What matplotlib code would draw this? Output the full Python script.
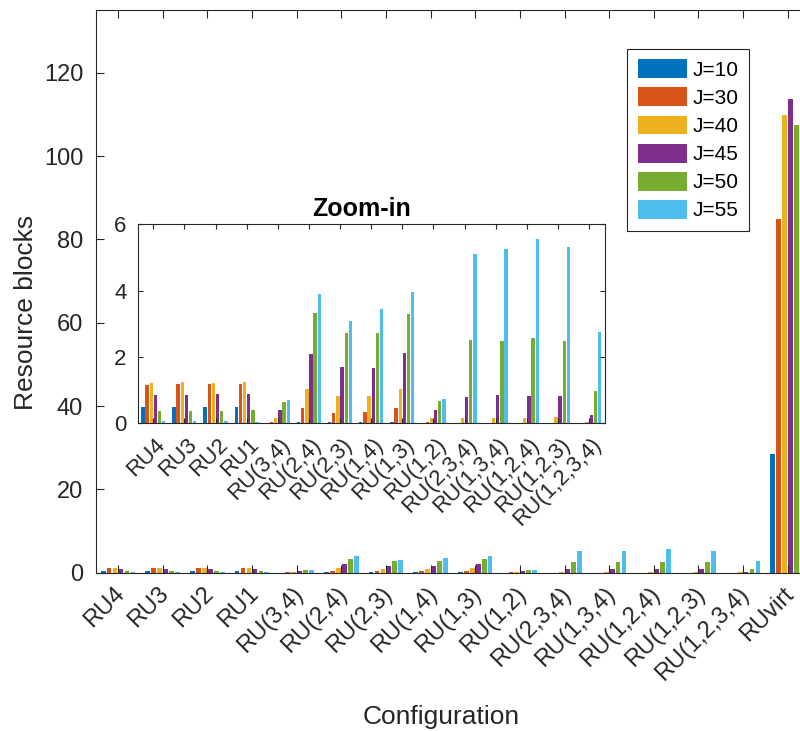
import numpy as np
import matplotlib
matplotlib.use('Agg')
import matplotlib.pyplot as plt
from matplotlib.transforms import ScaledTranslation

plt.rcParams['font.family'] = ['Liberation Sans', 'DejaVu Sans']

# configurations on the x axis
categories = ['RU4', 'RU3', 'RU2', 'RU1', 'RU(3,4)', 'RU(2,4)', 'RU(2,3)',
              'RU(1,4)', 'RU(1,3)', 'RU(1,2)', 'RU(2,3,4)', 'RU(1,3,4)',
              'RU(1,2,4)', 'RU(1,2,3)', 'RU(1,2,3,4)', 'RUvirt']

series_labels = ['J=10', 'J=30', 'J=40', 'J=45', 'J=50', 'J=55']

# resource blocks per configuration, one list per J
j10 = [0.50, 0.50, 0.49, 0.49, 0.00, 0.05, 0.04, 0.04, 0.05, 0.00,
       0.00, 0.00, 0.00, 0.00, 0.00, 28.4]
j30 = [1.15, 1.18, 1.18, 1.20, 0.04, 0.45, 0.32, 0.34, 0.45, 0.04,
       0.00, 0.00, 0.00, 0.00, 0.00, 85.0]
j40 = [1.23, 1.24, 1.21, 1.24, 0.17, 1.02, 0.82, 0.82, 1.04, 0.16,
       0.15, 0.16, 0.17, 0.19, 0.04, 109.8]
j45 = [0.86, 0.86, 0.88, 0.88, 0.40, 2.08, 1.69, 1.68, 2.11, 0.41,
       0.80, 0.86, 0.82, 0.82, 0.25, 113.6]
j50 = [0.36, 0.37, 0.38, 0.39, 0.63, 3.32, 2.73, 2.71, 3.29, 0.67,
       2.52, 2.47, 2.56, 2.47, 0.97, 107.5]
j55 = [0.07, 0.07, 0.07, 0.05, 0.69, 3.89, 3.10, 3.46, 3.95, 0.73,
       5.12, 5.26, 5.57, 5.32, 2.76, 110.0]

series = [j10, j30, j40, j45, j50, j55]
colors = ['#0072BD', '#D95319', '#EDB120', '#7E2F8E', '#77AC30', '#4DBEEE']
axis_grey = '#262626'


def draw_bars(ax, n_groups):
    # matlab style grouped bars
    x = np.arange(1, n_groups + 1)
    slot = 0.8 / len(series)
    for i, vals in enumerate(series):
        offset = (i - (len(series) - 1) / 2) * slot
        ax.bar(x + offset, vals[:n_groups], width=slot * 0.8,
               color=colors[i], label=series_labels[i], linewidth=0)
    ax.set_xticks(x)
    ax.set_xlim(0.5, n_groups + 0.5)


def style_axes(ax, ticklen, size):
    for side in ax.spines.values():
        side.set_color(axis_grey)
        side.set_linewidth(0.8)
    ax.tick_params(direction='in', top=True, right=True, length=ticklen,
                   width=0.8, color=axis_grey, labelcolor=axis_grey,
                   labelsize=size)


def shift_labels(fig, ax, dx, dy):
    for lab in ax.get_xticklabels():
        lab.set_transform(lab.get_transform() +
                          ScaledTranslation(dx / 100, -dy / 100, fig.dpi_scale_trans))


fig = plt.figure(figsize=(8, 7.31), dpi=100)

# main axes (runs slightly past the right edge, like the original)
ax = fig.add_axes([0.1196, 0.2166, 0.893, 0.7693])
draw_bars(ax, len(categories))
ax.set_ylim(0, 135)
ax.set_yticks(np.arange(0, 121, 20))
style_axes(ax, 5.5, 17)
ax.tick_params(axis='y', pad=9)
ax.tick_params(axis='x', pad=13)
ax.set_xticklabels(categories, rotation=45, ha='right', va='center',
                   rotation_mode='anchor')

# naming the axes
ax.set_xlabel('Configuration', fontsize=19, color=axis_grey, va='center')
ax.xaxis.set_label_coords(0.483, -0.2566)
ax.set_ylabel('Resource blocks', fontsize=19, color=axis_grey, va='center')
ax.yaxis.set_label_coords(-0.0976, 0.4636)

# legend
leg = ax.legend(loc='upper left', bbox_to_anchor=(0.784, 0.933),
                bbox_transform=fig.transFigure, borderaxespad=0,
                fontsize=15, handlelength=2.35, handleheight=1.02,
                labelspacing=0.36, handletextpad=0.3, borderpad=0.5,
                fancybox=False, framealpha=1)
leg.get_frame().set_edgecolor(axis_grey)
leg.get_frame().set_linewidth(0.8)
for t in leg.get_texts():
    t.set_color('black')

# zoom-in inset without RUvirt
ax_in = fig.add_axes([0.1721, 0.4209, 0.5838, 0.2722])
draw_bars(ax_in, len(categories) - 1)
ax_in.set_ylim(0, 6)
ax_in.set_yticks([0, 2, 4, 6])
style_axes(ax_in, 3.6, 16)
ax_in.tick_params(axis='y', pad=8)
ax_in.tick_params(axis='x', pad=13)
ax_in.set_xticklabels(categories[:-1], rotation=45, ha='right', va='center',
                      rotation_mode='anchor')
ax_in.set_title('Zoom-in', fontsize=18, fontweight='bold', pad=6, x=0.48)

shift_labels(fig, ax, 3, 0)
shift_labels(fig, ax_in, 9, 0)

plt.savefig('out.png', dpi=100)
